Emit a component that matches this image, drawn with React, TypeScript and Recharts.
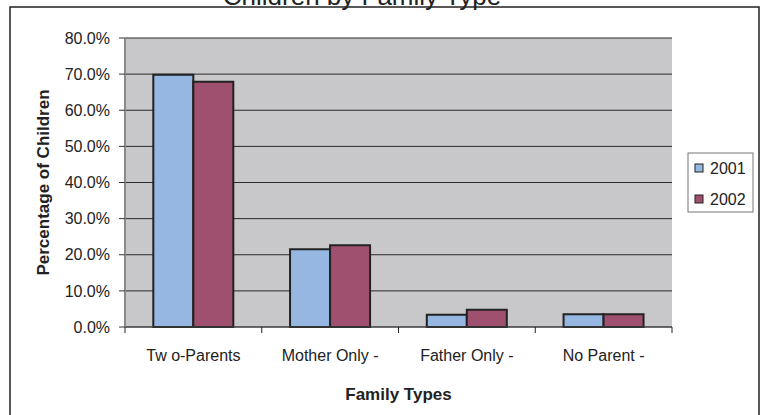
import { BarChart, Bar, XAxis, YAxis, CartesianGrid, Label } from 'recharts';

const familyTypes = ['Tw o-Parents', 'Mother Only -', 'Father Only -', 'No Parent -'];
const pct2001 = [69.8, 21.5, 3.4, 3.5];
const pct2002 = [67.9, 22.6, 4.8, 3.5];
const yTicks = [0, 10, 20, 30, 40, 50, 60, 70, 80];
const seriesNames = ['2001', '2002'];

const FONT = '"Liberation Sans", Arial, Helvetica, sans-serif';
const INK = '#222';
const BLUE = '#95B7E1';
const PLUM = '#A0506F';
const seriesColors = [BLUE, PLUM];

const data = familyTypes.map((type, i) => ({
  type,
  y2001: pct2001[i],
  y2002: pct2002[i],
}));

// category labels, with tick marks on the band edges rather than the centres
function FamilyTick(props: any) {
  const { x, y, payload, index, width } = props;
  const half = payload?.offset || (width ?? 0) / familyTypes.length / 2;
  const axisY = y - 6;
  return (
    <g>
      <line x1={x - half} x2={x - half} y1={axisY} y2={axisY + 6} stroke={INK} />
      {index === familyTypes.length - 1 && (
        <line x1={x + half} x2={x + half} y1={axisY} y2={axisY + 6} stroke={INK} />
      )}
      <text x={x} y={axisY + 34} textAnchor="middle" fontSize={16} fill={INK} fontFamily={FONT}>
        {payload.value}
      </text>
    </g>
  );
}

function YTitle(props: any) {
  const vb = props.viewBox;
  const cx = vb.x + 43;
  const cy = vb.y + vb.height / 2;
  return (
    <text
      x={cx}
      y={cy}
      dy="0.36em"
      textAnchor="middle"
      transform={`rotate(-90 ${cx} ${cy})`}
      fontSize={17}
      fontWeight="bold"
      fill={INK}
      fontFamily={FONT}
    >
      Percentage of Children
    </text>
  );
}

function XTitle(props: any) {
  const vb = props.viewBox;
  return (
    <text
      x={vb.x + vb.width / 2}
      y={vb.y + 73}
      textAnchor="middle"
      fontSize={17}
      fontWeight="bold"
      fill={INK}
      fontFamily={FONT}
    >
      Family Types
    </text>
  );
}

export default function App() {
  return (
    <div
      style={{
        position: 'absolute',
        left: 0,
        top: 0,
        width: 763,
        height: 415,
        overflow: 'hidden',
        background: '#fff',
        fontFamily: FONT,
      }}
    >
      <BarChart
        width={763}
        height={415}
        data={data}
        margin={{ top: 38, right: 91, bottom: 0, left: 0 }}
        barCategoryGap="20.7%"
        barGap={0}
      >
        <CartesianGrid vertical={false} stroke="#2a2a2a" fill="#C8C8CA" />
        <XAxis
          dataKey="type"
          height={88}
          interval={0}
          tickSize={6}
          tickMargin={0}
          tickLine={false}
          axisLine={{ stroke: '#444' }}
          tick={<FamilyTick />}
        >
          <Label content={<XTitle />} />
        </XAxis>
        <YAxis
          width={125}
          domain={[0, 80]}
          ticks={yTicks}
          interval={0}
          tickSize={6}
          tickMargin={9}
          tickFormatter={(v: number) => `${v.toFixed(1)}%`}
          tick={{ fontSize: 16, fill: INK, fontFamily: FONT }}
          tickLine={{ stroke: '#333' }}
          axisLine={{ stroke: '#8a8a8a', strokeWidth: 2 }}
        >
          <Label content={<YTitle />} />
        </YAxis>
        <YAxis
          yAxisId="edge"
          orientation="right"
          width={0}
          tick={false}
          tickLine={false}
          axisLine={{ stroke: '#8a8a8a', strokeWidth: 1.5 }}
        />
        <Bar dataKey="y2001" name="2001" fill={BLUE} stroke={INK} strokeWidth={2} isAnimationActive={false} />
        <Bar dataKey="y2002" name="2002" fill={PLUM} stroke={INK} strokeWidth={2} isAnimationActive={false} />
      </BarChart>

      {/* title, outer frame and legend box */}
      <svg
        width={763}
        height={415}
        style={{ position: 'absolute', left: 0, top: 0, pointerEvents: 'none' }}
      >
        <text x={362} y={5} textAnchor="middle" fontSize={26} fill={INK} fontFamily={FONT}>
          Children by Family Type
        </text>
        <rect x={10} y={7} width={749} height={430} fill="none" stroke="#222" strokeWidth={1.5} />
        <rect x={688} y={153} width={65} height={59} fill="#fff" stroke="#777" strokeWidth={1} />
        {seriesNames.map((name, i) => (
          <g key={name}>
            <rect
              x={695}
              y={164 + i * 31}
              width={8}
              height={8}
              fill={seriesColors[i]}
              stroke={INK}
              strokeWidth={1}
            />
            <text x={710} y={174 + i * 31} fontSize={16} fill={INK} fontFamily={FONT}>
              {name}
            </text>
          </g>
        ))}
      </svg>
    </div>
  );
}
